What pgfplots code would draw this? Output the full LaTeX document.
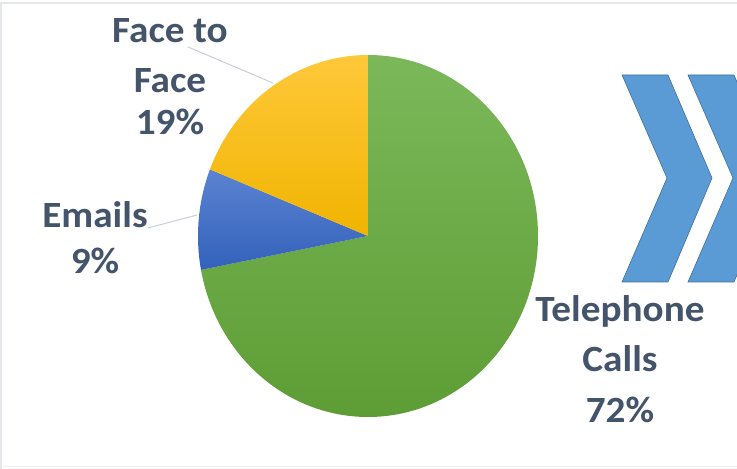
\documentclass[border=0pt]{standalone}
\usepackage{pgfplots}
\usepackage{pgfplotstable}
\usepackage{fontspec}
\setmainfont{Carlito}
\pgfplotsset{compat=1.18}
\definecolor{txt}{HTML}{44546A}
\definecolor{gTop}{HTML}{7BB85A}
\definecolor{gBot}{HTML}{5E9D35}
\definecolor{bTop}{HTML}{5B83D2}
\definecolor{bBot}{HTML}{3361BA}
\definecolor{yTop}{HTML}{FFC83A}
\definecolor{yBot}{HTML}{F0B400}
\definecolor{chev}{HTML}{5B9BD5}
\definecolor{chevE}{HTML}{41719C}
\definecolor{lead}{HTML}{C8CFD8}
\definecolor{frame}{HTML}{E4E8EC}

\pgfplotstableread{
label value
Telephone 72
Emails 9
FaceToFace 19
}\piedata
\pgfplotstablegetelem{0}{value}\of\piedata \let\vA\pgfplotsretval
\pgfplotstablegetelem{1}{value}\of\piedata \let\vB\pgfplotsretval
\pgfplotstablegetelem{2}{value}\of\piedata \let\vC\pgfplotsretval
\pgfmathsetmacro\aA{90}
\pgfmathsetmacro\aB{\aA-\vA*3.6}
\pgfmathsetmacro\aC{\aB-\vB*3.6}
\pgfmathsetmacro\aD{\aC-\vC*3.6}

\begin{document}
\begin{tikzpicture}
\clip (0,0) rectangle (737pt,469pt);
\fill[white] (0,0) rectangle (737pt,469pt);
\begin{axis}[hide axis, scale only axis, x=1pt, y=1pt,
  xmin=0, xmax=737, ymin=0, ymax=469, clip=false]
% frame
\draw[frame, line width=1.5pt] (axis cs:1,0) -- (axis cs:1,466) -- (axis cs:737,466);
\draw[frame!60, line width=1pt] (axis cs:1,2) -- (axis cs:737,2);
% pie
\shade[top color=gTop, bottom color=gBot] (axis cs:368,233) -- ++(\aA:170pt and 181pt)
  arc[start angle=\aA, end angle=\aB, x radius=170pt, y radius=181pt] -- cycle;
\shade[top color=bTop, bottom color=bBot] (axis cs:368,233) -- ++(\aB:170pt and 181pt)
  arc[start angle=\aB, end angle=\aC, x radius=170pt, y radius=181pt] -- cycle;
\shade[top color=yTop, bottom color=yBot] (axis cs:368,233) -- ++(\aC:170pt and 181pt)
  arc[start angle=\aC, end angle=\aD, x radius=170pt, y radius=181pt] -- cycle;
% leader lines
\draw[lead, line width=1pt] (axis cs:188,422) -- (axis cs:273,386);
\draw[lead, line width=1pt] (axis cs:148,241) -- (axis cs:197,254);
% chevrons
\filldraw[fill=chev, draw=chevE, line width=0.6pt] (axis cs:622,394) -- (axis cs:668,394) -- (axis cs:712,291)
  -- (axis cs:668,187) -- (axis cs:622,187) -- (axis cs:667,291) -- cycle;
\filldraw[fill=chev, draw=chevE, line width=0.6pt] (axis cs:688,394) -- (axis cs:734,394) -- (axis cs:778,291)
  -- (axis cs:734,187) -- (axis cs:688,187) -- (axis cs:733,291) -- cycle;
% labels
\tikzset{lbl/.style={anchor=base, text=txt, font=\fontsize{37}{44}\selectfont\bfseries, inner sep=0pt, xscale=1.06}}
\node[lbl] at (axis cs:170,426) {Face to};
\node[lbl] at (axis cs:170,376) {Face};
\node[lbl] at (axis cs:170,334) {19\%};
\node[lbl] at (axis cs:95,241) {Emails};
\node[lbl] at (axis cs:95,195) {9\%};
\node[lbl] at (axis cs:620,147) {Telephone};
\node[lbl] at (axis cs:620,97) {Calls};
\node[lbl] at (axis cs:620,46) {72\%};
\end{axis}
\end{tikzpicture}
\end{document}
